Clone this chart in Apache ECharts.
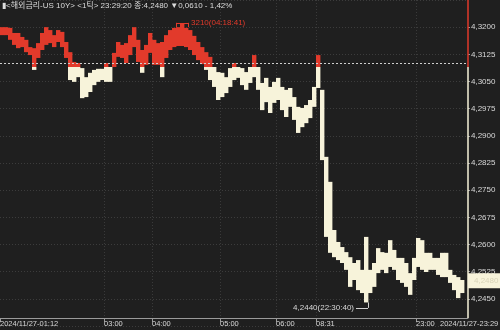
<!DOCTYPE html>
<html>
<head>
<meta charset="utf-8">
<script src="https://cdn.jsdelivr.net/npm/echarts@6/dist/echarts.min.js"></script>
<style>
  html, body { margin: 0; padding: 0; background: #1f1f1f; }
  #chart { width: 500px; height: 330px; }
</style>
</head>
<body>
<div id="chart"></div>
<script>
// tick chart, one column per time slot: high / low of each slot
const highs = [
  4.3200, 4.3200, 4.3198, 4.3184, 4.3184, 4.3173, 4.3165, 4.3145, 4.3142, 4.3156,
  4.3184, 4.3200, 4.3192, 4.3178, 4.3192, 4.3187, 4.3159, 4.3131, 4.3104, 4.3101,
  4.3087, 4.3062, 4.3074, 4.3082, 4.3085, 4.3085, 4.3101, 4.3090, 4.3129, 4.3159,
  4.3151, 4.3156, 4.3178, 4.3200, 4.3165, 4.3137, 4.3151, 4.3184, 4.3165, 4.3156,
  4.3159, 4.3178, 4.3192, 4.3198, 4.3200, 4.3210, 4.3198, 4.3192, 4.3176, 4.3159,
  4.3145, 4.3131, 4.3118, 4.3090, 4.3076, 4.3074, 4.3062, 4.3087, 4.3101, 4.3090,
  4.3087, 4.3076, 4.3090, 4.3123, 4.3090, 4.3046, 4.3060, 4.3035, 4.3049, 4.3060,
  4.3035, 4.3027, 4.3032, 4.3007, 4.2980, 4.2977, 4.2985, 4.2999, 4.3035, 4.3123,
  4.3027, 4.2842, 4.2773, 4.2640, 4.2607, 4.2593, 4.2579, 4.2565, 4.2549, 4.2557,
  4.2530, 4.2621, 4.2530, 4.2549, 4.2590, 4.2579, 4.2577, 4.2612, 4.2585, 4.2563,
  4.2563, 4.2549, 4.2521, 4.2563, 4.2618, 4.2612, 4.2577, 4.2577, 4.2563, 4.2563,
  4.2577, 4.2577, 4.2530, 4.2516, 4.2510, 4.2502
];
const lows = [
  4.3178, 4.3178, 4.3165, 4.3151, 4.3142, 4.3145, 4.3131, 4.3123, 4.3082, 4.3115,
  4.3137, 4.3151, 4.3156, 4.3145, 4.3159, 4.3145, 4.3115, 4.3054, 4.3049, 4.3062,
  4.3004, 4.3007, 4.3021, 4.3040, 4.3049, 4.3054, 4.3049, 4.3049, 4.3090, 4.3118,
  4.3115, 4.3101, 4.3123, 4.3145, 4.3104, 4.3074, 4.3096, 4.3129, 4.3096, 4.3096,
  4.3062, 4.3115, 4.3137, 4.3145, 4.3148, 4.3148, 4.3145, 4.3137, 4.3123, 4.3109,
  4.3098, 4.3082, 4.3054, 4.3035, 4.2999, 4.3007, 4.3018, 4.3035, 4.3054, 4.3060,
  4.3040, 4.3027, 4.3046, 4.3062, 4.3027, 4.2971, 4.2993, 4.2963, 4.2991, 4.2999,
  4.2971, 4.2952, 4.2980, 4.2944, 4.2908, 4.2924, 4.2935, 4.2949, 4.2980, 4.3032,
  4.2833, 4.2621, 4.2577, 4.2565, 4.2557, 4.2549, 4.2530, 4.2483, 4.2502, 4.2474,
  4.2466, 4.2440, 4.2466, 4.2483, 4.2521, 4.2530, 4.2521, 4.2538, 4.2530, 4.2502,
  4.2494, 4.2483, 4.2461, 4.2502, 4.2538, 4.2530, 4.2524, 4.2530, 4.2530, 4.2516,
  4.2510, 4.2510, 4.2494, 4.2474, 4.2452, 4.2466
];

const prevClose = 4.3090;
const lastPrice = 4.2480;
const dayHigh = 4.3210;
const dayLow = 4.2440;
const dayHighText = '3210(04:18:41)';
const dayLowText = '4,2440(22:30:40)';
const lastText = '4,2480';

const tickIndex = [0, 26, 38, 55, 69, 79, 104, 110];
const tickLabels = ['2024/11/27-01:12', '03:00', '04:00', '05:00', '06:00', '08:31', '23:00', '2024/11/27-23:29'];

const yMin = 4.2375, yMax = 4.3275, yStep = 0.0075;
const yAxisFloor = 4.2397; // where the time axis line sits

const titleText = '▮<해외금리-US 10Y> <1틱> 23:29:20 종:4,2480 ▼0,0610 - 1,42%';

const RED = '#e23a2b';
const CREAM = '#f7f3da';
const FONT = "'Liberation Sans Narrow', 'Liberation Sans', 'Noto Sans CJK KR', sans-serif";

const slots = 118;
const endTick = tickIndex[tickIndex.length - 1];
const categories = [];
for (let i = 0; i < slots; i++) {
  const k = tickIndex.indexOf(i);
  categories.push(k >= 0 ? tickLabels[k] : '');
}
const data = highs.map((h, i) => [i, lows[i], h]);

function renderItem(params, api) {
  const i = api.value(0), lo = api.value(1), hi = api.value(2);
  const x = api.coord([i, hi])[0];
  const w = api.coord([i + 1, hi])[0] - x + 0.4;
  const yHi = api.coord([i, hi])[1];
  const yLo = api.coord([i, lo])[1];
  const yBase = api.coord([i, prevClose])[1];
  const kids = [];
  if (hi > prevClose) {
    const bot = lo > prevClose ? yLo : yBase;
    kids.push({ type: 'rect', shape: { x: x, y: yHi, width: w, height: Math.max(bot - yHi, 1) }, style: { fill: RED } });
  }
  if (lo < prevClose) {
    const top = hi < prevClose ? yHi : yBase;
    kids.push({ type: 'rect', shape: { x: x, y: top, width: w, height: Math.max(yLo - top, 1) }, style: { fill: CREAM } });
  }
  return { type: 'group', children: kids };
}

const isTick = i => tickIndex.indexOf(i) >= 0;
const hiX = 44, lowX = 91.5;

const chart = echarts.init(document.getElementById('chart'));
chart.setOption({
  backgroundColor: '#1f1f1f',
  animation: false,
  title: {
    text: titleText, left: 2, top: 2, padding: 0,
    textStyle: { color: '#dcdcdc', fontSize: 8, fontWeight: 'normal', fontFamily: FONT }
  },
  grid: { left: 0, right: 32, top: 0, bottom: 4, outerBoundsMode: 'none', containLabel: false },
  xAxis: {
    type: 'category',
    data: categories,
    boundaryGap: false,
    offset: -8,
    axisLine: { lineStyle: { color: '#9a9a9a', width: 1 } },
    axisTick: { show: true, length: 4, interval: i => isTick(i) && i !== endTick, lineStyle: { color: '#9a9a9a' } },
    axisLabel: {
      interval: i => isTick(i), align: 'left', margin: 2,
      color: '#d8d8d8', fontSize: 7.5, fontFamily: FONT, hideOverlap: false
    },
    splitLine: { show: true, interval: i => isTick(i) && i !== 0 && i !== endTick, lineStyle: { color: '#3a3a3a', type: [1, 2] } }
  },
  yAxis: {
    type: 'value', position: 'right',
    min: yMin, max: yMax, interval: yStep,
    axisLine: { show: false },
    axisTick: { show: true, length: 2, lineStyle: { color: '#9a9a9a' } },
    axisLabel: {
      showMinLabel: false, showMaxLabel: false, margin: 3,
      color: '#d8d8d8', fontSize: 8, fontFamily: FONT,
      formatter: v => v.toFixed(4).replace('.', ',')
    },
    splitLine: { show: true, lineStyle: { color: '#3c3c3c', type: [1, 2] } }
  },
  series: [{
    type: 'custom',
    renderItem: renderItem,
    encode: { x: 0, y: [1, 2] },
    data: data,
    clip: false,
    markLine: {
      silent: true, animation: false,
      symbol: ['none', 'none'],
      label: { show: false },
      data: [
        { yAxis: prevClose, lineStyle: { color: '#cfcfcf', type: [2, 2], width: 1 } },
        {
          yAxis: lastPrice, lineStyle: { color: 'rgba(0,0,0,0)', width: 0 },
          label: {
            show: true, position: 'end', distance: 0, formatter: lastText,
            backgroundColor: CREAM, color: '#d9d4b8', padding: [4, 6, 3, 6],
            fontSize: 8, fontFamily: FONT
          }
        },
        // right axis line, red above previous close, cream below
        [{ coord: [117, yMax], lineStyle: { color: RED, type: 'solid', width: 1.5 } }, { coord: [117, prevClose] }],
        [{ coord: [117, prevClose], lineStyle: { color: CREAM, type: 'solid', width: 1.5 } }, { coord: [117, yAxisFloor] }],
        // day high connector + label
        [{ coord: [hiX, 4.3200], lineStyle: { color: RED, type: 'solid', width: 1 } }, { coord: [hiX, 4.3212] }],
        [{
          coord: [hiX, 4.3212], lineStyle: { color: RED, type: 'solid', width: 1 },
          label: { show: true, position: 'end', distance: 3, formatter: dayHighText, color: RED, fontSize: 8, fontFamily: FONT }
        }, { coord: [hiX + 3.25, 4.3212] }],
        [{ coord: [hiX + 3.25, 4.3212], lineStyle: { color: RED, type: 'solid', width: 1 } }, { coord: [hiX + 3.25, 4.3200] }],
        // day low connector + label
        [{
          coord: [lowX - 2.25, 4.2425], lineStyle: { color: '#d0d0d0', type: 'solid', width: 1 },
          label: { show: true, position: 'start', distance: 2, formatter: dayLowText, color: '#d8d8d8', fontSize: 8, fontFamily: FONT }
        }, { coord: [lowX, 4.2425] }],
        [{ coord: [lowX, 4.2425], lineStyle: { color: '#d0d0d0', type: 'solid', width: 1 } }, { coord: [lowX, dayLow] }]
      ]
    }
  }]
});
</script>
</body>
</html>
